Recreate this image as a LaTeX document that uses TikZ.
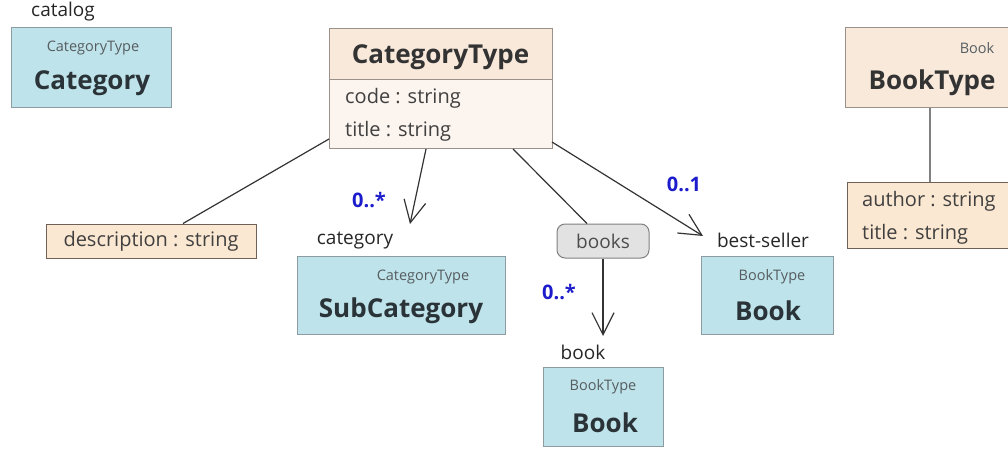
\documentclass[tikz,border=0pt]{standalone}
\usepackage{fontspec}
\setmainfont{Open Sans}
\usepackage{tikz}
\usetikzlibrary{arrows.meta,positioning,calc}

\definecolor{elemfill}{HTML}{BFE3EA}
\definecolor{elemline}{HTML}{8C9CA0}
\definecolor{headfill}{HTML}{F8E9DB}
\definecolor{bodyfill}{HTML}{FCF4EE}
\definecolor{attrfill}{HTML}{FBE8D2}
\definecolor{attrline}{HTML}{6E6258}
\definecolor{grpfill}{HTML}{E2E2E2}
\definecolor{multblue}{HTML}{1C1CCC}
\definecolor{ink}{HTML}{2A3438}

\tikzset{
  elem/.style={draw=elemline, fill=elemfill, line width=1pt, inner sep=0pt},
  classhead/.style={draw=attrline!70, fill=headfill, line width=1pt, inner sep=0pt},
  attrbox/.style={draw=attrline, fill=attrfill, line width=1pt, inner sep=0pt},
  group/.style={draw=gray, fill=grpfill, rounded corners=8pt, line width=1pt,
    minimum width=92pt, minimum height=34pt, font=\fontsize{19}{22}\selectfont, text=black!70},
  tname/.style={font=\fontsize{14.5}{17}\selectfont, text=ink!80, inner sep=0pt},
  ename/.style={font=\fontsize{26}{30}\selectfont\bfseries, text=ink, inner sep=0pt},
  role/.style={font=\fontsize{19}{23}\selectfont, text=black!85, inner sep=0pt},
  attr/.style={font=\fontsize{20}{23}\selectfont, text=black!75, inner sep=0pt, anchor=west},
  mult/.style={font=\fontsize{20}{23}\selectfont\bfseries, text=multblue, inner sep=0pt},
  link/.style={draw=black!80, line width=1.2pt},
  nav/.style={link, -{Straight Barb[length=22pt, width=22pt, line width=1.2pt]}}
}

\begin{document}
\begin{tikzpicture}[x=1pt, y=-1pt]
\useasboundingbox (0,0) rectangle (1008,452);
\clip (0,0) rectangle (1008,452);

% global element catalog
\node[role] (catalogrole) at (63,12) {catalog};
\node[elem, minimum width=160pt, minimum height=79pt] (category) at (91,67.5) {};
\node[tname] (categorytype) at (93,48) {CategoryType};
\node[ename] (categoryname) at (92,83) {Category};

% complex type CategoryType
\node[classhead, minimum width=223pt, minimum height=51pt] (cthead) at (440.5,54) {};
\node[classhead, fill=bodyfill, minimum width=223pt, minimum height=69pt] (ctbody) at (440.5,114) {};
\node[ename, text=black!80] (ctname) at (440.5,57) {CategoryType};
\node[attr] (ctcode) at (345,98) {code : string};
\node[attr] (cttitle) at (345,131) {title : string};

\node[attrbox, minimum width=210pt, minimum height=34pt, font=\fontsize{20}{23}\selectfont, text=black!75] (desc) at (151,241) {description : string};
\draw[link] (329,139) -- (desc.north -| 183,0);

% sub category
\coordinate (subtip) at (410,224);
\draw[nav] (ctbody.south -| 426,0) -- (subtip);
\node[mult] (submult) at (369,200) {0..*};
\node[role] (subrole) at (355,241) {category};
\node[elem, minimum width=208pt, minimum height=78pt] (subcat) at (401,295) {};
\node[tname] (subtype) at (423,277) {CategoryType};
\node[ename] (subname) at (401,311) {SubCategory};

% books group
\node[group] (books) at (603,241) {books};
\draw[link] (ctbody.south -| 513,0) -- (books.north -| 587,0);
\coordinate (booktip) at (603,336);
\draw[nav] (books.south) -- (booktip);
\node[mult] (bookmult) at (559,292) {0..*};
\node[role] (bookrole) at (583,352) {book};
\node[elem, minimum width=120pt, minimum height=79pt] (book) at (603,406.5) {};
\node[tname] (booktype) at (603,387) {BookType};
\node[ename] (bookname) at (605,423) {Book};

% best seller
\coordinate (besttip) at (703,236);
\draw[nav] (552,142) -- (besttip);
\node[mult] (bestmult) at (684,184) {0..1};
\node[role] (bestrole) at (763,240) {best-seller};
\node[elem, minimum width=132pt, minimum height=78pt] (best) at (767,295) {};
\node[tname] (besttype) at (772,277) {BookType};
\node[ename] (bestname) at (768,311) {Book};

% complex type BookType
\node[classhead, minimum width=180pt, minimum height=79pt] (bthead) at (935,67.5) {};
\node[tname] (btelem) at (977,48) {Book};
\node[ename, text=black!80] (btname) at (932,83) {BookType};
\node[attrbox, minimum width=180pt, minimum height=66pt] (btattrs) at (937,215) {};
\node[attr] (btauthor) at (862,201) {author : string};
\node[attr] (bttitle) at (862,234) {title : string};
\draw[link, draw=gray] (bthead.south -| 930,0) -- (btattrs.north -| 930,0);
\end{tikzpicture}
\end{document}
